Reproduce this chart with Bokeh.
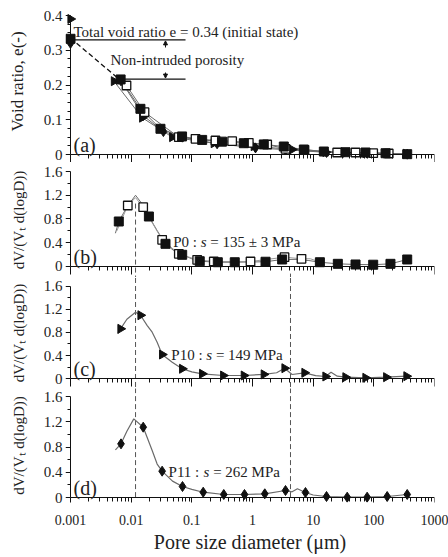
import math
from bokeh.plotting import figure
from bokeh.layouts import column
from bokeh.models import (Range1d, LogAxis, LinearAxis, FixedTicker, CustomJSTickFormatter,
                          Arrow, NormalHead, Label)
from bokeh.embed import file_html
from bokeh.resources import INLINE

FONT = "Liberation Serif"

# ---------------- data ----------------
# (a) cumulative void ratio curves
a_sq_x = [0.001, 0.0067, 0.0142, 0.0304, 0.069, 0.148, 0.314, 0.72, 1.535, 3.28, 7.02, 15.0, 34.1, 72.8, 156, 355]
a_sq_y = [0.333, 0.216, 0.1315, 0.074, 0.052, 0.042, 0.037, 0.0325, 0.029, 0.023, 0.0144, 0.0086, 0.0066, 0.0058, 0.0037, 0.001]
a_osq_x = [0.00838, 0.0166, 0.061, 0.115, 0.245, 0.462, 0.869, 1.746, 3.5, 7.19, 24.9, 49.9, 97.6, 176]
a_osq_y = [0.1986, 0.1217, 0.0498, 0.0452, 0.0403, 0.0383, 0.0337, 0.0288, 0.0164, 0.0135, 0.0058, 0.0058, 0.0037, 0.0029]
a_tri_x = [0.001, 0.0052, 0.0152, 0.0475, 0.23, 1.05, 4.5, 16, 34, 73, 160, 340]
a_tri_y = [0.39, 0.211, 0.106, 0.050, 0.0325, 0.024, 0.0144, 0.007, 0.005, 0.004, 0.003, 0.002]
a_dia_x = [0.001, 0.0068, 0.0158, 0.034, 0.07, 0.261, 1.12, 3.5, 16.6, 77, 355]
a_dia_y = [0.32, 0.212, 0.112, 0.066, 0.05, 0.031, 0.019, 0.014, 0.006, 0.004, 0.001]
a_extrap_x = [0.001, 0.0065]
a_extrap_y = [0.335, 0.215]
e_total = 0.33
e_intruded = 0.2167
e_line_end = 0.0787
e_intr_start = 0.00588

# (b) P0 pore size density
b_sq_x = [0.00625, 0.0196, 0.0368, 0.0693, 0.135, 0.268, 0.51, 1.64, 3.08, 12.9, 25.5, 49.9, 97.6, 188, 355]
b_sq_y = [0.758, 0.842, 0.382, 0.197, 0.089, 0.072, 0.072, 0.080, 0.118, 0.072, 0.045, 0.034, 0.030, 0.045, 0.118]
b_osq_x = [0.00879, 0.01578, 0.0324, 0.061, 0.1225, 0.230, 0.927, 3.37, 6.42]
b_osq_y = [1.027, 0.999, 0.45, 0.214, 0.113, 0.084, 0.084, 0.157, 0.130]
b_curve1_x = [0.0055, 0.00625, 0.0085, 0.0118, 0.0145, 0.0196, 0.027, 0.0368, 0.05, 0.0693, 0.1, 0.135, 0.268,
              0.51, 1.64, 3.08, 5.5, 8.5, 12.9, 25.5, 49.9, 97.6, 188, 355]
b_curve1_y = [0.56, 0.758, 1.0, 1.2, 1.08, 0.842, 0.6, 0.382, 0.27, 0.197, 0.13, 0.089, 0.072,
              0.072, 0.080, 0.118, 0.12, 0.10, 0.072, 0.045, 0.034, 0.030, 0.045, 0.118]
b_curve2_x = [0.0058, 0.00879, 0.0118, 0.01578, 0.0324, 0.061, 0.1225, 0.230, 0.927, 3.37, 6.42, 9.0, 12.9]
b_curve2_y = [0.60, 1.027, 1.16, 0.999, 0.45, 0.214, 0.113, 0.084, 0.084, 0.157, 0.130, 0.13, 0.075]

# (c) P10
c_tri_x = [0.00667, 0.01426, 0.0324, 0.0693, 0.148, 0.329, 0.72, 1.535, 3.37, 7.19, 15.96, 34.1, 72.8, 160, 345]
c_tri_y = [0.864, 1.10, 0.417, 0.169, 0.082, 0.052, 0.052, 0.072, 0.179, 0.099, 0.035, 0.023, 0.012, 0.023, 0.040]
c_curve_x = [0.0060, 0.00667, 0.0085, 0.0118, 0.01426, 0.0184, 0.0222, 0.0268, 0.0324, 0.0475, 0.0693, 0.1,
             0.148, 0.329, 0.72, 1.535, 2.5, 3.37, 4.5, 7.19, 11, 15.96, 19.7, 25, 34.1, 72.8, 160, 345]
c_curve_y = [0.777, 0.864, 1.03, 1.153, 1.10, 0.92, 0.805, 0.63, 0.417, 0.283, 0.169, 0.115,
             0.082, 0.052, 0.052, 0.072, 0.10, 0.179, 0.07, 0.099, 0.05, 0.035, 0.11, 0.04, 0.023, 0.012, 0.023, 0.040]

# (d) P11
d_dia_x = [0.0068, 0.0158, 0.0324, 0.0702, 0.154, 0.336, 0.738, 1.594, 3.50, 7.47, 16.6, 36.4, 77.6, 166, 355]
d_dia_y = [0.85, 1.114, 0.417, 0.174, 0.084, 0.048, 0.048, 0.059, 0.111, 0.079, 0.016, 0.005, 0.005, 0.016, 0.048]
d_curve_x = [0.0055, 0.0068, 0.0085, 0.01105, 0.0158, 0.0222, 0.0268, 0.0324, 0.048, 0.0702, 0.1, 0.154, 0.336,
             0.738, 1.594, 3.5, 4.5, 5.5, 7.47, 10, 16.6, 36.4, 77.6, 166, 355]
d_curve_y = [0.755, 0.85, 1.05, 1.246, 1.114, 0.745, 0.53, 0.417, 0.26, 0.174, 0.13, 0.084, 0.048,
             0.048, 0.059, 0.111, 0.09, 0.138, 0.079, 0.04, 0.016, 0.005, 0.005, 0.016, 0.048]

peak_lines = [0.0118, 4.23]

x_tick_values = [0.001, 0.01, 0.1, 1, 10, 100, 1000]
y_ticks_a = [0, 0.1, 0.2, 0.3, 0.4]
y_ticks_psd = [0, 0.4, 0.8, 1.2, 1.6]

# ---------------- styling helpers ----------------
W = 448
XS = 0.000827
X_MINOR = [m * 10.0 ** e for e in range(-3, 3) for m in range(2, 10)]
BLACK = "#111111"
TXT = "#222222"
CURVE = "#6a6a6a"
DASH = "#555555"
EMPTY = "return '';"


def style_rule_axis(ax, tick_out, minor_out):
    ax.axis_line_color = BLACK
    ax.major_tick_line_color = BLACK
    ax.minor_tick_line_color = BLACK
    ax.major_tick_in = 0
    ax.major_tick_out = tick_out
    ax.minor_tick_in = 0
    ax.minor_tick_out = minor_out
    ax.major_label_text_font_size = "0px"


def style_label_axis(ax):
    ax.axis_line_color = None
    ax.major_tick_line_color = None
    ax.minor_tick_line_color = None
    ax.major_tick_in = 0
    ax.major_tick_out = 0
    ax.minor_tick_in = 0
    ax.minor_tick_out = 0
    ax.major_label_text_font = FONT
    ax.major_label_text_color = TXT
    ax.axis_label_text_font = FONT
    ax.axis_label_text_font_style = "normal"
    ax.axis_label_text_color = TXT


def make_panel(height, y_lo, y_hi, y_top, y_major, y_minor, ylabel, ylabel_size, bottom_border=0, xlabels=False):
    p = figure(width=W, height=height, x_axis_type="log",
               x_range=Range1d(XS, 1000), y_range=Range1d(y_lo, y_hi),
               x_axis_location=None, y_axis_location=None,
               output_backend="svg", toolbar_location=None,
               min_border_left=65, min_border_right=14, min_border_top=0,
               min_border_bottom=bottom_border)
    p.outline_line_color = None
    p.grid.visible = False

    # axis lines and ticks, drawn at x = 0.001 and y = 0
    xa = LogAxis(fixed_location=0, bounds=(0.001, 1000),
                 ticker=FixedTicker(ticks=x_tick_values, minor_ticks=X_MINOR),
                 formatter=CustomJSTickFormatter(code=EMPTY))
    style_rule_axis(xa, 8, 4)
    p.add_layout(xa, "below")
    ya = LinearAxis(fixed_location=0.001, bounds=(0, y_top),
                    ticker=FixedTicker(ticks=y_major, minor_ticks=y_minor),
                    formatter=CustomJSTickFormatter(code=EMPTY))
    style_rule_axis(ya, 5, 3)
    p.add_layout(ya, "left")

    # tick labels and axis titles
    yl = LinearAxis(bounds=(0, y_top), ticker=FixedTicker(ticks=y_major),
                    formatter=CustomJSTickFormatter(code="return Math.abs(tick) < 1e-9 ? '0' : tick.toFixed(1);"))
    style_label_axis(yl)
    yl.major_label_text_font_size = "15px"
    yl.major_label_standoff = 3
    yl.axis_label = ylabel
    yl.axis_label_text_font_size = ylabel_size
    yl.axis_label_standoff = 14
    p.add_layout(yl, "left")
    if xlabels:
        xl = LogAxis(bounds=(0.001, 1000), ticker=FixedTicker(ticks=x_tick_values),
                     formatter=CustomJSTickFormatter(code="return tick >= 1 ? tick.toFixed(0) : tick.toPrecision(1);"))
        style_label_axis(xl)
        xl.major_label_text_font_size = "14px"
        xl.major_label_standoff = 12
        xl.axis_label = "Pore size diameter (\u03bcm)"
        xl.axis_label_text_font_size = "20px"
        xl.axis_label_standoff = 3
        p.add_layout(xl, "below")
    return p


def add_label(p, x, y, text, size="15px", style="normal", x_offset=0):
    p.add_layout(Label(x=x, y=y, text=text, x_offset=x_offset, text_font=FONT, text_font_size=size,
                       text_font_style=style, text_baseline="middle", text_align="left",
                       text_color=TXT))


def add_pressure_label(p, x, y, head, tail, size_px=15):
    head_w = sum({"P": 0.556, " ": 0.25, ":": 0.278}.get(ch, 0.5) for ch in head) * size_px
    s_w = 0.389 * size_px
    add_label(p, x, y, head.rstrip(), size=f"{size_px}px")
    add_label(p, x, y, "s", size=f"{size_px}px", style="italic", x_offset=head_w)
    add_label(p, x, y, tail.lstrip(), size=f"{size_px}px", x_offset=head_w + s_w + 0.25 * size_px)


PSD_MINOR = [0.2, 0.6, 1.0, 1.4]
PSD_LABEL = "dV/(V\u209c d(logD))"

# ---------------- panel (a) ----------------
pa = make_panel(162, -0.023, 0.4432, 0.4, y_ticks_a,
                [0.025, 0.05, 0.075, 0.125, 0.15, 0.175, 0.225, 0.25, 0.275, 0.325, 0.35, 0.375],
                "Void ratio, e(-)", "17px")
pa.line(a_extrap_x, a_extrap_y, line_color=BLACK, line_width=1.3, line_dash="5 3")
pa.line([0.001, e_line_end], [e_total, e_total], line_color=BLACK, line_width=1.3)
pa.line([e_intr_start, e_line_end], [e_intruded, e_intruded], line_color=BLACK, line_width=1.3)
for xs, ys in [(a_sq_x[1:], a_sq_y[1:]), (a_osq_x, a_osq_y), (a_tri_x[1:], a_tri_y[1:]), (a_dia_x[1:], a_dia_y[1:])]:
    pa.line(xs, ys, line_color=CURVE, line_width=1)
pa.scatter(a_dia_x, a_dia_y, marker="diamond", size=10, color=BLACK)
pa.scatter(a_tri_x, a_tri_y, marker="triangle", size=9, angle=-math.pi / 2, color=BLACK)
pa.scatter(a_osq_x, a_osq_y, marker="square", size=8.5, fill_color="white", line_color=BLACK, line_width=1.3)
pa.scatter(a_sq_x, a_sq_y, marker="square", size=9, color=BLACK)
arr_x = 0.0368
pa.add_layout(Arrow(end=NormalHead(size=4, fill_color=BLACK, line_color=BLACK), x_start=arr_x, y_start=0.308,
                    x_end=arr_x, y_end=0.327, line_color=BLACK, line_width=1))
pa.add_layout(Arrow(end=NormalHead(size=4, fill_color=BLACK, line_color=BLACK), x_start=arr_x, y_start=0.236,
                    x_end=arr_x, y_end=0.220, line_color=BLACK, line_width=1))
add_label(pa, 0.001, 0.352, "Total void ratio e = 0.34 (initial state)", size="15px", x_offset=3)
add_label(pa, 0.00457, 0.271, "Non-intruded porosity", size="15px")
add_label(pa, 0.001, 0.027, "(a)", size="20px", x_offset=3)

# ---------------- panel (b) ----------------
pb = make_panel(115, -0.1853, 1.7516, 1.6, y_ticks_psd, PSD_MINOR, PSD_LABEL, "15px")
pb.segment(x0=peak_lines, y0=[1.06, -0.12], x1=peak_lines, y1=[-1, -1],
           line_color=DASH, line_width=1, line_dash="5 3")
pb.line(b_curve1_x, b_curve1_y, line_color=CURVE, line_width=1)
pb.line(b_curve2_x, b_curve2_y, line_color="#9a9a9a", line_width=1)
pb.scatter(b_osq_x, b_osq_y, marker="square", size=8.5, fill_color="white", line_color=BLACK, line_width=1.3)
pb.scatter(b_sq_x, b_sq_y, marker="square", size=9, color=BLACK)
add_pressure_label(pb, 0.0493, 0.41, "P0 : ", " = 135 \u00b1 3  MPa")
add_label(pb, 0.001, 0.157, "(b)", size="20px", x_offset=3)

# ---------------- panel (c) ----------------
pc = make_panel(111, -0.1739, 1.7565, 1.6, y_ticks_psd, PSD_MINOR, PSD_LABEL, "15px")
pc.segment(x0=peak_lines, y0=[3, 3], x1=peak_lines, y1=[-1, -1],
           line_color=DASH, line_width=1, line_dash="5 3")
pc.line(c_curve_x, c_curve_y, line_color=CURVE, line_width=1.2)
pc.scatter(c_tri_x, c_tri_y, marker="triangle", size=9, angle=-math.pi / 2, color=BLACK)
add_pressure_label(pc, 0.0459, 0.417, "P10 : ", " = 149  MPa")
add_label(pc, 0.001, 0.157, "(c)", size="20px", x_offset=3)

# ---------------- panel (d) ----------------
pd = make_panel(169, -0.079, 1.7267, 1.6, y_ticks_psd, PSD_MINOR, PSD_LABEL, "15px", bottom_border=55, xlabels=True)
pd.segment(x0=peak_lines, y0=[3, 3], x1=peak_lines, y1=[0, 0],
           line_color=DASH, line_width=1, line_dash="5 3")
pd.line(d_curve_x, d_curve_y, line_color=CURVE, line_width=1.2)
pd.scatter(d_dia_x, d_dia_y, marker="diamond", size=10, color=BLACK)
add_pressure_label(pd, 0.0413, 0.40, "P11 : ", " = 262 MPa")
add_label(pd, 0.001, 0.158, "(d)", size="20px", x_offset=3)

layout = column(pa, pb, pc, pd, spacing=0)
open("out.html", "w").write(file_html(layout, INLINE))
